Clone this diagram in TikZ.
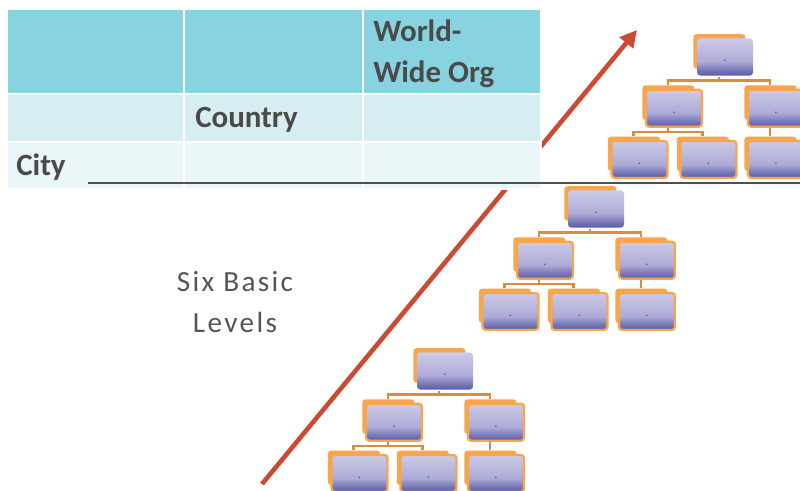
\documentclass[tikz,border=0pt]{standalone}
\usepackage{fontspec}
\setmainfont{Carlito}
\newfontfamily\widefont[LetterSpace=8]{Carlito}
\usetikzlibrary{arrows.meta,shadows,trees}

\definecolor{headcell}{HTML}{88D3E0}
\definecolor{midcell}{HTML}{D6EEF1}
\definecolor{lowcell}{HTML}{EBF6F8}
\definecolor{tabletext}{HTML}{4A4A4A}
\definecolor{basictext}{HTML}{555555}
\definecolor{rulegray}{HTML}{505050}
\definecolor{arrowred}{HTML}{CB4A33}
\definecolor{orgorange}{HTML}{F8A64C}
\definecolor{orgline}{HTML}{DB8C3E}
\definecolor{orgdark}{HTML}{5A5CA6}
\definecolor{orgmid}{HTML}{7476B6}
\definecolor{orglav}{HTML}{AEACD7}
\definecolor{orglight}{HTML}{CCCAE7}

\pgfdeclareverticalshading{orgfill}{100bp}{color(0bp)=(orgdark); color(25bp)=(orgdark);
  color(32bp)=(orgmid); color(44bp)=(orglav); color(75bp)=(orglight); color(100bp)=(orglight)}

\tikzset{
  cell/.style = {draw=white, line width=0.05cm},
  celltext/.style = {anchor=base west, inner sep=0, text=tabletext,
      font=\fontsize{22}{29.3}\selectfont\bfseries},
  orgbox/.style = {rectangle, rounded corners=0.08cm, minimum width=1.4cm,
      minimum height=0.925cm, inner sep=0, shade, shading=orgfill,
      draw=orgorange, line width=1.6pt, text=basictext,
      text height=7pt, text depth=0pt, font=\fontsize{9}{9}\selectfont,
      copy shadow={shadow xshift=-0.15cm, shadow yshift=0.15cm,
        shadow scale=0.93, fill=orgorange, draw=none}},
  orgroot/.style = {orgbox, draw=none},
}

\begin{document}
\begin{tikzpicture}
    [
      x = 0.025cm, y = -0.025cm,
      level distance = 1.28cm,
      level 1/.style = {sibling distance = 2.55cm},
      level 2/.style = {sibling distance = 1.72cm},
      edge from parent/.style = {draw=orgline, line width=0.065cm},
      edge from parent path = {([xshift=-0.15cm]\tikzparentnode.south) -- ++(0,4)
          -| ([xshift=-0.15cm,yshift=0.1cm]\tikzchildnode.north)},
    ]
    \clip (0,0) rectangle (800,491);

    % rising arrow, partly under the table
    \coordinate (arrow tail) at (262,484);
    \coordinate (arrow tip) at (637,30);
    \draw[arrowred, line width=0.115cm, -{Triangle[length=0.42cm, width=0.42cm]}]
      (arrow tail) -- (arrow tip);

    % table of levels
    \foreach \xa/\xb in {7/184, 184/363, 363/541} {
        \filldraw[cell, fill=headcell] (\xa,9) rectangle (\xb,94.5);
        \filldraw[cell, fill=midcell] (\xa,94.5) rectangle (\xb,142.5);
        \filldraw[cell, fill=lowcell] (\xa,142.5) rectangle (\xb,189);
      }
    \node[celltext, align=left] (world) at (373,83) {World-\\Wide Org};
    \node[celltext] (country) at (195,128) {Country};
    \node[celltext] (city) at (16,176) {City};

    \coordinate (rule west) at (88,183);
    \coordinate (rule east) at (800,183);
    \draw[rulegray, line width=0.068cm] (rule west) -- (rule east);

    \node[align=center, text=basictext, font=\widefont\fontsize{20.8}{29.8}\selectfont]
      (basic) at (235,302) {Six Basic\\Levels};

    % three org charts
    \foreach \cx/\cy [count=\k] in {445/371, 596/209, 725/57} {
        \node[orgroot] (top-\k) at (\cx,\cy) {.}
        child {
            node[orgbox] (mid-\k-a) {.}
            child { node[orgbox] (low-\k-a) {.} }
            child { node[orgbox] (low-\k-b) {.} }
          }
        child {
            node[orgbox] (mid-\k-b) {.}
            child { node[orgbox] (low-\k-c) {.} }
          }
        ;
      }

  \end{tikzpicture}
\end{document}
